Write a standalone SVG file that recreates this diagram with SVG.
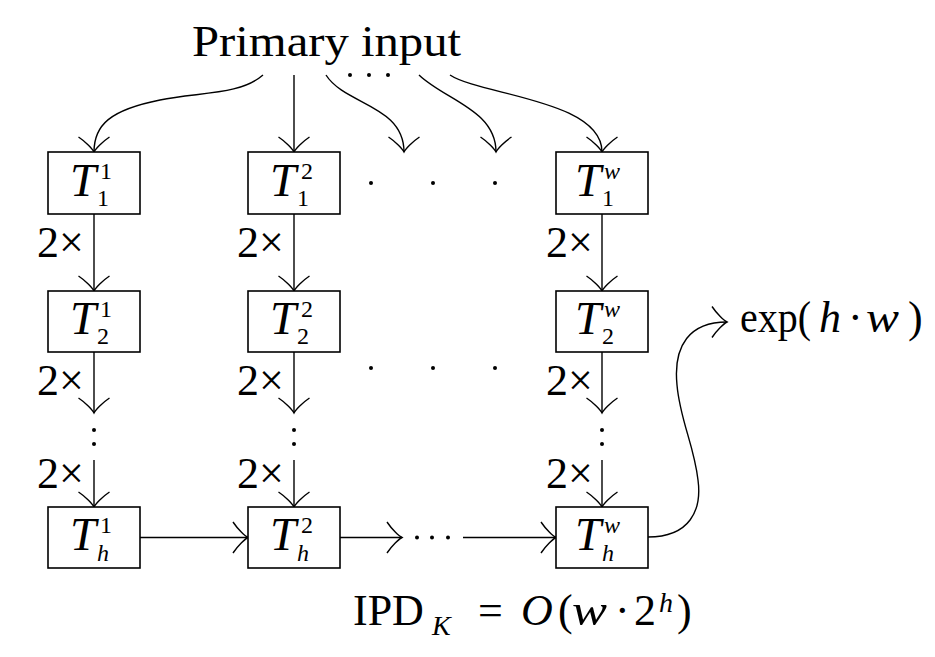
<svg xmlns="http://www.w3.org/2000/svg" width="935" height="657" viewBox="0 0 935 657">
<style>
text{font-family:"Liberation Serif","Times New Roman",serif;fill:#000}
.m{font-size:44px}
.it{font-style:italic}
.T{font-size:47px;font-style:italic}
.s{font-size:24px}
.box{fill:#fff;stroke:#000;stroke-width:1.6}
.ln{fill:none;stroke:#000;stroke-width:1.4}
.dot{fill:#000}
</style>
<defs>
<marker id="ah" markerUnits="userSpaceOnUse" markerWidth="40" markerHeight="40" viewBox="-20 -20 40 40" refX="0" refY="0" orient="auto" overflow="visible">
<path d="M-15,-15.5 C-10,-8 -3,-1.5 0,0 C-3,1.5 -10,8 -15,15.5" fill="none" stroke="#000" stroke-width="1.4"/>
</marker>
</defs>
<rect width="935" height="657" fill="#fff"/>

<g id="primary-input">
<text class="m" x="192" y="56" textLength="269" lengthAdjust="spacingAndGlyphs">Primary input</text>
<circle class="dot" cx="350" cy="75" r="2"/><circle class="dot" cx="369" cy="75" r="2"/><circle class="dot" cx="388" cy="75" r="2"/>
</g>

<g id="connectors">
<path class="ln" d="M263,75 C240,95 200,92 160,100 C110,110 94,125 94,152" marker-end="url(#ah)"/>
<path class="ln" d="M294,75 L294,152" marker-end="url(#ah)"/>
<path class="ln" d="M326,75 C345,105 404,105 404,152" marker-end="url(#ah)"/>
<path class="ln" d="M419,75 C445,100 496,110 496,152" marker-end="url(#ah)"/>
<path class="ln" d="M450,75 C480,95 602,100 602,152" marker-end="url(#ah)"/>

<path class="ln" d="M94,214 L94,291" marker-end="url(#ah)"/>
<path class="ln" d="M94,352 L94,413" marker-end="url(#ah)"/>
<path class="ln" d="M94,460 L94,507" marker-end="url(#ah)"/>
<path class="ln" d="M294,214 L294,291" marker-end="url(#ah)"/>
<path class="ln" d="M294,352 L294,413" marker-end="url(#ah)"/>
<path class="ln" d="M294,460 L294,507" marker-end="url(#ah)"/>
<path class="ln" d="M602,214 L602,291" marker-end="url(#ah)"/>
<path class="ln" d="M602,352 L602,413" marker-end="url(#ah)"/>
<path class="ln" d="M602,460 L602,507" marker-end="url(#ah)"/>

<path class="ln" d="M140,537.5 L248,537.5" marker-end="url(#ah)"/>
<path class="ln" d="M340,537.5 L402,537.5" marker-end="url(#ah)"/>
<path class="ln" d="M463,537.5 L556,537.5" marker-end="url(#ah)"/>

<path class="ln" d="M648,537 C690,537 702,510 698,480 C694,445 680,420 677,385 C673,345 690,322 727,322" marker-end="url(#ah)"/>

<text class="m" x="37" y="257">2×</text>
<text class="m" x="37" y="395">2×</text>
<text class="m" x="37" y="488">2×</text>
<text class="m" x="237" y="257">2×</text>
<text class="m" x="237" y="395">2×</text>
<text class="m" x="237" y="488">2×</text>
<text class="m" x="546" y="257">2×</text>
<text class="m" x="546" y="395">2×</text>
<text class="m" x="546" y="488">2×</text>
</g>

<g id="ellipses">
<circle class="dot" cx="371" cy="183" r="2"/><circle class="dot" cx="433" cy="183" r="2"/><circle class="dot" cx="495" cy="183" r="2"/>
<circle class="dot" cx="371" cy="368" r="2"/><circle class="dot" cx="433" cy="368" r="2"/><circle class="dot" cx="495" cy="368" r="2"/>
<circle class="dot" cx="94" cy="430" r="2"/><circle class="dot" cx="94" cy="444" r="2"/>
<circle class="dot" cx="294" cy="430" r="2"/><circle class="dot" cx="294" cy="444" r="2"/>
<circle class="dot" cx="602" cy="430" r="2"/><circle class="dot" cx="602" cy="444" r="2"/>
<circle class="dot" cx="417" cy="537.5" r="2"/><circle class="dot" cx="432" cy="537.5" r="2"/><circle class="dot" cx="448" cy="537.5" r="2"/>
</g>

<g id="T1_1"><rect class="box" x="48" y="152" width="92" height="62"/>
<text><tspan class="T" x="70" y="196">T</tspan><tspan class="s" x="100" y="179">1</tspan><tspan class="s" x="97" y="206">1</tspan></text></g>
<g id="T2_1"><rect class="box" x="48" y="291" width="92" height="61"/>
<text><tspan class="T" x="70" y="334">T</tspan><tspan class="s" x="100" y="317">1</tspan><tspan class="s" x="97" y="344">2</tspan></text></g>
<g id="Th_1"><rect class="box" x="48" y="507" width="92" height="61"/>
<text><tspan class="T" x="70" y="550">T</tspan><tspan class="s" x="100" y="533">1</tspan><tspan class="s it" x="97" y="561">h</tspan></text></g>

<g id="T1_2"><rect class="box" x="248" y="152" width="92" height="62"/>
<text><tspan class="T" x="270" y="196">T</tspan><tspan class="s" x="301" y="179">2</tspan><tspan class="s" x="297" y="206">1</tspan></text></g>
<g id="T2_2"><rect class="box" x="248" y="291" width="92" height="61"/>
<text><tspan class="T" x="270" y="334">T</tspan><tspan class="s" x="301" y="317">2</tspan><tspan class="s" x="297" y="344">2</tspan></text></g>
<g id="Th_2"><rect class="box" x="248" y="507" width="92" height="61"/>
<text><tspan class="T" x="270" y="550">T</tspan><tspan class="s" x="301" y="533">2</tspan><tspan class="s it" x="297" y="561">h</tspan></text></g>

<g id="T1_w"><rect class="box" x="556" y="152" width="92" height="62"/>
<text><tspan class="T" x="575" y="196">T</tspan><tspan class="s it" x="604" y="179">w</tspan><tspan class="s" x="602" y="206">1</tspan></text></g>
<g id="T2_w"><rect class="box" x="556" y="291" width="92" height="61"/>
<text><tspan class="T" x="575" y="334">T</tspan><tspan class="s it" x="604" y="317">w</tspan><tspan class="s" x="602" y="344">2</tspan></text></g>
<g id="Th_w"><rect class="box" x="556" y="507" width="92" height="61"/>
<text><tspan class="T" x="575" y="550">T</tspan><tspan class="s it" x="604" y="533">w</tspan><tspan class="s it" x="602" y="561">h</tspan></text></g>

<g id="exp">
<text class="m"><tspan x="740" y="332" textLength="71" lengthAdjust="spacingAndGlyphs">exp(</tspan><tspan class="it" x="819" y="332">h</tspan><tspan x="848" y="332">·</tspan><tspan class="it" x="866" y="332" textLength="33" lengthAdjust="spacingAndGlyphs">w</tspan><tspan x="908" y="332">)</tspan></text>
</g>

<g id="ipd">
<text class="m"><tspan x="353" y="625">IPD</tspan><tspan class="it" x="432" y="635" font-size="28">K</tspan><tspan x="478" y="625">=</tspan><tspan class="it" x="521" y="625">O</tspan><tspan x="558" y="625">(</tspan><tspan class="it" x="572" y="625" textLength="35" lengthAdjust="spacingAndGlyphs">w</tspan><tspan x="615" y="625">·</tspan><tspan x="634" y="625">2</tspan><tspan class="it" x="659" y="612" font-size="28">h</tspan><tspan x="677" y="625">)</tspan></text>
</g>
</svg>
